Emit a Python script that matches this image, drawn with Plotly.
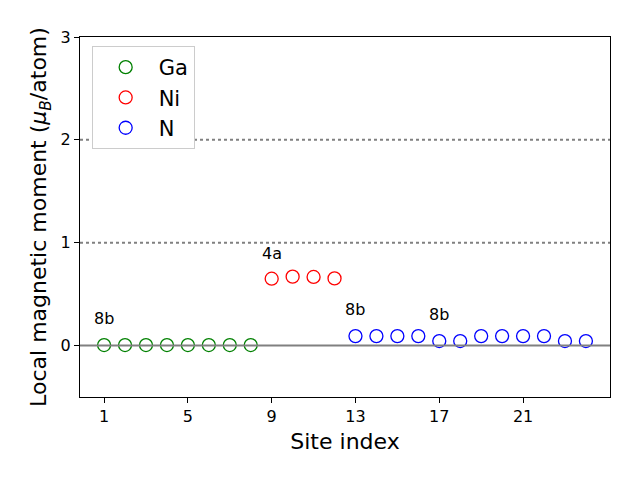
import plotly.graph_objects as go

ga_x = [1, 2, 3, 4, 5, 6, 7, 8]
ga_y = [0.005, 0.005, 0.005, 0.005, 0.005, 0.005, 0.005, 0.005]
ni_x = [9, 10, 11, 12]
ni_y = [0.65, 0.67, 0.667, 0.653]
n_x = [13, 14, 15, 16, 17, 18, 19, 20, 21, 22, 23, 24]
n_y = [0.092, 0.092, 0.092, 0.092, 0.044, 0.044, 0.092, 0.092, 0.092, 0.092, 0.044, 0.044]

x_ticks = [1, 5, 9, 13, 17, 21]
y_ticks = [0, 1, 2, 3]

site_labels = ["8b", "4a", "8b", "8b"]
site_label_x = [1, 9, 13, 17]
site_label_y = [0.26, 0.9, 0.35, 0.3]

FONT = "DejaVu Sans"

fig = go.Figure()

# reference lines
fig.add_hline(y=0, line=dict(color="#808080", width=2))
for yv in [1, 2]:
    fig.add_hline(y=yv, line=dict(color="#808080", width=2, dash="dot"))

for name, xs, ys, col in [("Ga", ga_x, ga_y, "green"), ("Ni", ni_x, ni_y, "red"), ("N", n_x, n_y, "blue")]:
    fig.add_trace(go.Scatter(
        x=xs, y=ys, mode="markers", name=name,
        marker=dict(symbol="circle-open", size=13, color=col, line=dict(width=1.3, color=col)),
    ))

for t, xv, yv in zip(site_labels, site_label_x, site_label_y):
    fig.add_annotation(x=xv, y=yv, text=t, showarrow=False,
                       font=dict(family=FONT, size=16, color="black"),
                       xanchor="center", yanchor="middle")

fig.update_layout(
    width=640, height=480,
    margin=dict(l=80, r=30, t=37, b=83),
    plot_bgcolor="white", paper_bgcolor="white",
    font=dict(family=FONT, color="black"),
    showlegend=True,
    legend=dict(x=0.022, y=0.975, xanchor="left", yanchor="top",
                bordercolor="#cccccc", borderwidth=1, bgcolor="white",
                font=dict(family=FONT, size=21), itemwidth=56,
                tracegroupgap=2),
)
fig.update_xaxes(
    range=[-0.15, 25.15], tickvals=x_ticks, ticktext=[str(v) for v in x_ticks],
    showgrid=False, zeroline=False, showline=True, linecolor="black", linewidth=1.2,
    mirror=True, ticks="outside", ticklen=5, tickcolor="black",
    tickfont=dict(family=FONT, size=16),
    title=dict(text="Site index", font=dict(family=FONT, size=22), standoff=8),
)
fig.update_yaxes(
    range=[-0.5, 3], tickvals=y_ticks, ticktext=[str(v) for v in y_ticks],
    showgrid=False, zeroline=False, showline=True, linecolor="black", linewidth=1.2,
    mirror=True, ticks="outside", ticklen=5, tickcolor="black",
    tickfont=dict(family=FONT, size=16),
    title=dict(text="Local magnetic moment (<i>μ</i><sub><i>B</i></sub>/atom)",
               font=dict(family=FONT, size=22), standoff=7),
)

fig.write_html("out.html")
